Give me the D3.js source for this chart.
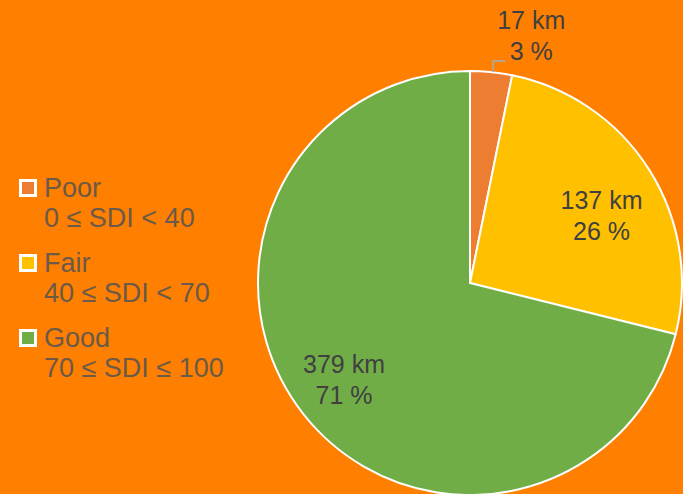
<!DOCTYPE html>
<html>
<head>
<meta charset="utf-8">
<script src="https://cdn.jsdelivr.net/npm/d3@7/dist/d3.min.js"></script>
<style>
  html, body { margin: 0; padding: 0; background: #FF7F00; }
  svg { display: block; }
</style>
</head>
<body>
<script>
// data
const categories = ['Poor', 'Fair', 'Good']
const ranges = ['0 ≤ SDI < 40', '40 ≤ SDI < 70', '70 ≤ SDI ≤ 100']
const lengths = [17, 137, 379]
const percents = [3, 26, 71]
const colors = ['#ED7D31', '#FFC000', '#70AD47']

const data = categories.map((c, i) => ({
  name: c, range: ranges[i], km: lengths[i], pct: percents[i], color: colors[i]
}))

const width = 683
const height = 494
const cx = 470
const cy = 283
const radius = 212

// label nudges (layout only)
const labelShift = [[0, 0], [6, 13], [-9, 7]]

const svg = d3.select('body').append('svg')
  .attr('width', width)
  .attr('height', height)

svg.append('rect')
  .attr('width', width)
  .attr('height', height)
  .attr('fill', '#FF7F00')

const pie = d3.pie()
  .sort(null)
  .value(d => d.km)

const arc = d3.arc()
  .innerRadius(0)
  .outerRadius(radius)

const labelArc = d3.arc()
  .innerRadius(radius * 0.7)
  .outerRadius(radius * 0.7)

const arcs = pie(data)

const g = svg.append('g')
  .attr('transform', 'translate(' + cx + ',' + cy + ')')

// slices
g.selectAll('path.slice')
  .data(arcs)
  .enter().append('path')
  .attr('class', 'slice')
  .attr('d', arc)
  .attr('fill', d => d.data.color)
  .attr('stroke', '#fff')
  .attr('stroke-width', 2)
  .attr('stroke-linejoin', 'round')

const font = '"Liberation Sans", Arial, sans-serif'

// labels inside the big slices, outside with a leader for the small one
arcs.forEach((a, i) => {
  const mid = (a.startAngle + a.endAngle) / 2
  let x, y
  if (a.endAngle - a.startAngle < 0.4) {
    const px = Math.sin(mid) * radius
    const py = -Math.cos(mid) * radius
    g.append('path')
      .attr('d', d3.line()([[px + 2, py], [px + 2, py - 11], [px + 14, py - 11]]))
      .attr('fill', 'none')
      .attr('stroke', '#B3A58F')
      .attr('stroke-width', 2)
    x = px + 40
    y = py - 35
  } else {
    const c = labelArc.centroid(a)
    x = c[0] + labelShift[i][0]
    y = c[1] + labelShift[i][1]
  }
  const t = g.append('text')
    .attr('text-anchor', 'middle')
    .attr('font-family', font)
    .attr('font-size', 25)
    .attr('fill', '#404040')
  t.append('tspan').attr('x', x).attr('y', y - 8).text(a.data.km + ' km')
  t.append('tspan').attr('x', x).attr('y', y + 23).text(a.data.pct + ' %')
})

// legend
const legend = svg.append('g')
  .attr('transform', 'translate(20,180)')

const item = legend.selectAll('g')
  .data(data)
  .enter().append('g')
  .attr('transform', (d, i) => 'translate(0,' + (i * 75) + ')')

item.append('rect')
  .attr('x', 0.5)
  .attr('y', 0.5)
  .attr('width', 15)
  .attr('height', 15)
  .attr('fill', d => d.color)
  .attr('stroke', '#fff')
  .attr('stroke-width', 3)

const lt = item.append('text')
  .attr('font-family', font)
  .attr('font-size', 27)
  .attr('fill', '#6B5A48')

lt.append('tspan').attr('x', 24).attr('y', 16.5).text(d => d.name)
lt.append('tspan').attr('x', 24).attr('y', 47).text(d => d.range)
</script>
</body>
</html>
